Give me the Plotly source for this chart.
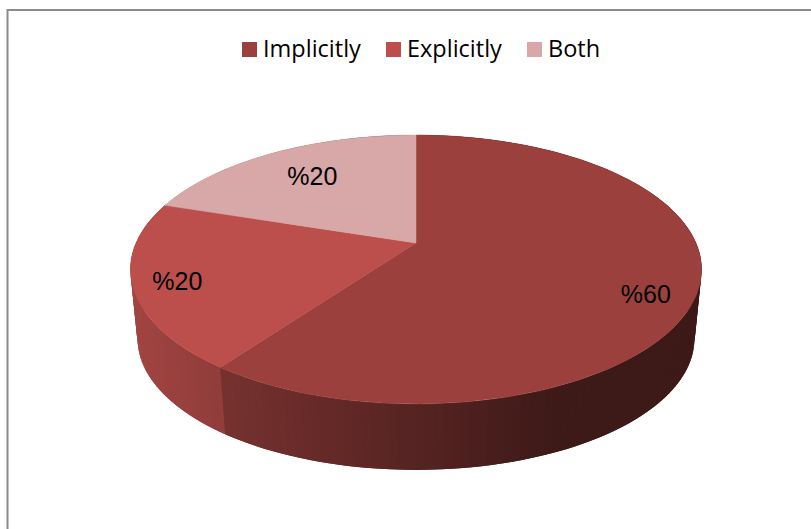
import numpy as np
import plotly.graph_objects as go

# Survey shares and the way each slice is drawn
categories = ["Implicitly", "Explicitly", "Both"]
shares = [60, 20, 20]
value_labels = ["%60", "%20", "%20"]
top_colours = ["#9b403d", "#bc4f4c", "#d7a8a7"]
wall_bases = [(156, 65, 62), (189, 80, 77), (215, 168, 167)]

# Where each value label sits: fraction of the radius and a vertical nudge
label_radius = [0.82, 0.85, 0.70]
label_nudge = [19, 5, 2]

# Key across the top of the chart
key_x = [249.5, 393.5, 534.5]
key_y = 49.5
key_text_gap = 13.5
key_text_drop = 2

WIDTH, HEIGHT = 811, 529

# Perspective model of the tilted disc, in page pixels
CX, CY, TILT_A, TILT_B, TILT_C, RADIUS = 416.0, 243.0, -81.4, 243.0, 0.197, 280.0
BASE_SCALE, BASE_SHIFT = 0.975, 76.0


def project(theta, r=1.0):
    """Clockwise angle from twelve o'clock to a point on the top face."""
    u, v = r * np.sin(theta), r * np.cos(theta)
    d = 1 + TILT_C * v
    return CX + RADIUS * u / d, (TILT_B + TILT_A * v) / d


def base(x, y):
    return CX + (x - CX) * BASE_SCALE, y * BASE_SCALE + BASE_SHIFT


def wall_shade(x):
    return float(np.clip(0.85 - (x - 135) * 0.00108, 0.39, 1.0))


fig = go.Figure()
edges = np.deg2rad(np.cumsum([0] + shares) * 3.6)

# Outer wall of the disc: each strip runs on under the next one so no seams show
for i, base_rgb in enumerate(wall_bases):
    start, stop = edges[i], edges[i + 1]
    n = max(int(np.degrees(stop - start) / 1.5), 1)
    steps = np.linspace(start, stop, n + 1)
    width = steps[1] - steps[0]
    for a, b in zip(steps[:-1], steps[1:]):
        arc = np.linspace(a, b + width, 4)
        ax, ay = project(arc)
        bx, by = base(ax, ay)
        shade = wall_shade(float(project((a + b) / 2)[0]))
        col = "rgb({},{},{})".format(*[round(c * shade) for c in base_rgb])
        fig.add_trace(go.Scatter(
            x=np.r_[ax, bx[::-1], ax[0]], y=np.r_[ay, by[::-1], ay[0]],
            mode="lines", fill="toself", fillcolor=col,
            line=dict(width=0),
            hoverinfo="skip", showlegend=False,
        ))

# Top face of each slice
for i, colour in enumerate(top_colours):
    arc = np.linspace(edges[i], edges[i + 1], 160)
    ax, ay = project(arc)
    fig.add_trace(go.Scatter(
        x=np.r_[CX, ax, CX], y=np.r_[CY, ay, CY],
        mode="lines", fill="toself", fillcolor=colour,
        line=dict(color=colour, width=0.5),
        name=categories[i], hoverinfo="name", showlegend=False,
    ))

# Colour key: swatches, then their names
fig.add_trace(go.Scatter(
    x=key_x, y=[key_y] * len(key_x), mode="markers",
    marker=dict(symbol="square", size=15, color=top_colours, line=dict(width=0)),
    hoverinfo="skip", showlegend=False,
))
fig.add_trace(go.Scatter(
    x=[k + key_text_gap for k in key_x], y=[key_y + key_text_drop] * len(key_x),
    mode="text", text=categories, textposition="middle right",
    textfont=dict(family="Open Sans", size=23.5, color="#000000"),
    hoverinfo="skip", showlegend=False,
))

# Value labels at each slice's middle angle
mids = (edges[:-1] + edges[1:]) / 2
lx, ly = project(mids, np.array(label_radius))
fig.add_trace(go.Scatter(
    x=lx, y=ly + np.array(label_nudge), mode="text", text=value_labels,
    textposition="middle center",
    textfont=dict(family="Liberation Sans", size=25, color="#000000"),
    hoverinfo="skip", showlegend=False,
))

fig.update_layout(
    width=WIDTH, height=HEIGHT, autosize=False,
    margin=dict(l=0, r=0, t=0, b=0),
    paper_bgcolor="white", plot_bgcolor="white",
    showlegend=False,
    xaxis=dict(range=[0, WIDTH], visible=False, fixedrange=True),
    yaxis=dict(range=[HEIGHT, 0], visible=False, fixedrange=True),
    shapes=[dict(
        type="rect", xref="x", yref="y", x0=7.5, y0=10, x1=WIDTH + 10, y1=HEIGHT + 10,
        line=dict(color="#8c8c8c", width=2), layer="above",
    )],
)

fig.write_html("out.html")
